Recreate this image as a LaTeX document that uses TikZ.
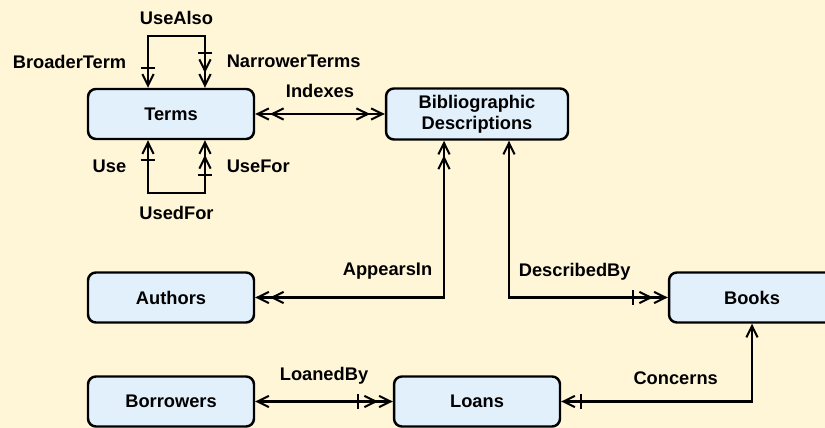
\documentclass[tikz,border=0pt]{standalone}
\usepackage{fontspec}
\setmainfont{Liberation Sans}
\usepackage{xcolor}
\usepackage{tikz}
\usetikzlibrary{arrows.meta,positioning,calc}
\definecolor{bgcream}{HTML}{FFF6D8}
\definecolor{boxblue}{HTML}{E2F0FC}

\begin{document}
\begin{tikzpicture}[
    x=0.02cm, y=-0.02cm,
    entity/.style={rectangle, draw=black, fill=boxblue, line width=1.4pt, rounded corners=4.5pt, minimum width=3.32cm, minimum height=1cm, inner sep=2pt, align=center, font=\bfseries\fontsize{10.4}{12}\selectfont},
    lbl/.style={font=\bfseries\fontsize{10.4}{12}\selectfont},
    rel/.style={line width=1.15pt},
    one/.tip={Straight Barb[length=6.5pt,width=6.4pt]},
    many/.tip={Straight Barb[length=6.5pt,width=6.4pt,sep=0pt] Straight Barb[length=6.5pt,width=6.4pt,sep=0pt]},
    onebar/.tip={Bar[width=8.5pt,sep=2.5pt] Straight Barb[length=6.5pt,width=6.4pt]},
    manybar/.tip={Bar[width=8.5pt,sep=2.4pt] Straight Barb[length=6.5pt,width=6.4pt,sep=0pt] Straight Barb[length=6.5pt,width=6.4pt]}
]
    % Background and page size
    \fill[bgcream] (0,0) rectangle (825,428);
    \useasboundingbox (0,0) rectangle (825,428);
    \clip (0,0) rectangle (825,428);

    % Entities
    \node[entity] (terms) at (171,114) {Terms};
    \node[entity, minimum width=3.64cm, minimum height=1.02cm] (biblio) at (477,114) {Bibliographic\\Descriptions};
    \node[entity] (authors) at (171,297.5) {Authors};
    \node[entity] (books) at (752,297.5) {Books};
    \node[entity] (borrowers) at (171,401.5) {Borrowers};
    \node[entity] (loans) at (477,401.5) {Loans};

    % Recursive relationships on Terms
    \coordinate (usealso) at ($(terms.north)+(5.5,-52)$);
    \coordinate (usedfor) at ($(terms.south)+(5.5,53)$);
    \node[lbl, above=2.5pt] at (usealso) {UseAlso};
    \node[lbl, below=3.7pt] at (usedfor) {UsedFor};
    \draw[rel, -{onebar}] (usealso) -| node[lbl, pos=0.75, left=8.5pt] {BroaderTerm} ([xshift=-0.46cm]terms.north);
    \draw[rel, -{manybar}] (usealso) -| node[lbl, pos=0.75, right=8.5pt] {NarrowerTerms} ([xshift=0.68cm]terms.north);
    \draw[rel, -{onebar}] (usedfor) -| node[lbl, pos=0.75, left=8.5pt] {Use} ([xshift=-0.46cm]terms.south);
    \draw[rel, -{manybar}] (usedfor) -| node[lbl, pos=0.75, right=8.5pt] {UseFor} ([xshift=0.68cm]terms.south);

    % Other relationships
    \draw[rel, {many}-{many}] (terms.east) -- node[lbl, above=5.3pt] {Indexes} (biblio.west);
    \draw[rel, {many}-{many}] (authors.east) -| node[lbl, pos=0.5, above left=6.2pt and 2.8pt] {AppearsIn} ([xshift=-0.66cm]biblio.south);
    \draw[rel, {one}-{manybar}] ([xshift=0.64cm]biblio.south) |- node[lbl, pos=0.5, above right=5.7pt and 1.7pt] {DescribedBy} (books.west);
    \draw[rel, {one}-{manybar}] (borrowers.east) -- node[lbl, above=5.7pt] {LoanedBy} (loans.west);
    \draw[rel, {one}-{onebar}] (books.south) |- node[lbl, pos=0.7, above=5.7pt] {Concerns} (loans.east);
\end{tikzpicture}
\end{document}
